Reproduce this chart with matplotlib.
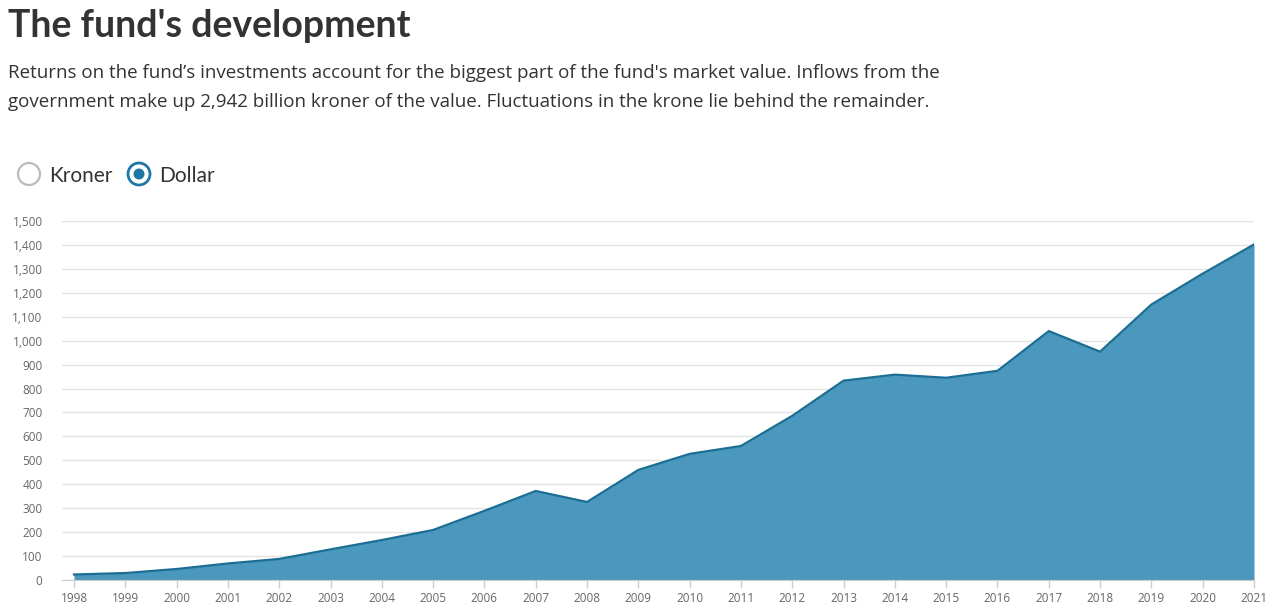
import numpy as np
import matplotlib
matplotlib.use("Agg")
from matplotlib import pyplot as plt
from matplotlib.patches import Ellipse

# fund market value, billion USD
years = list(range(1998, 2022))
values = [23, 29, 46, 69, 88, 128, 167, 209, 289, 372, 326, 460, 527, 560,
          686, 833, 858, 845, 874, 1040, 954, 1151, 1280, 1402]
ytick_vals = list(range(0, 1501, 100))

fill_col = '#4a98bd'
line_col = '#1b6e93'
grid_col = '#e3e3e3'
txt_col = '#333333'

plt.rcParams['font.family'] = ['Open Sans', 'DejaVu Sans']

fig = plt.figure(figsize=(12.8, 6.09), dpi=100)
W, H = 1280, 609

def fy(py):
    return 1 - py / H

def ring(px, py, r, **kw):
    # circle in pixel units on the figure
    e = Ellipse((px / W, fy(py)), 2 * r / W, 2 * r / H, transform=fig.transFigure, **kw)
    fig.patches.append(e)

# title + subtitle
fig.text(8 / W, fy(37), "The fund's development", fontsize=27, fontweight='bold',
         color=txt_col, va='baseline', ha='left', family=['Lato', 'DejaVu Sans'])
fig.text(8 / W, fy(78), "Returns on the fund\u2019s investments account for the biggest part of the fund's market value. Inflows from the",
         fontsize=13.5, color=txt_col, va='baseline', ha='left')
fig.text(8 / W, fy(107), "government make up 2,942 billion kroner of the value. Fluctuations in the krone lie behind the remainder.",
         fontsize=13.5, color=txt_col, va='baseline', ha='left')

# radio buttons
ring(29, 174, 11, fill=False, ec='#bbbbbb', lw=1.6)
ring(139, 174, 11, fill=False, ec='#1f77a8', lw=2.0)
ring(139, 174, 5.5, fc='#1f77a8', ec='none')
fig.text(49 / W, fy(182), "Kroner", fontsize=15, color=txt_col, va='baseline',
         family=['Lato', 'DejaVu Sans'])
fig.text(159 / W, fy(182), "Dollar", fontsize=15, color=txt_col, va='baseline',
         family=['Lato', 'DejaVu Sans'])

ax = fig.add_axes([62 / W, fy(580), (1254 - 62) / W, (580 - 221) / H])
ax.fill_between(years, values, 0, color=fill_col, lw=0, zorder=2)
ax.plot(years, values, color=line_col, lw=1.6, zorder=3)

ax.set_xlim(1998 - 12 / 51.3, 2021)
ax.set_ylim(0, 1500)
ax.set_yticks(ytick_vals)
ax.set_yticklabels([f"{v:,}" for v in ytick_vals])
ax.set_xticks(years)
ax.set_xticklabels([str(y) for y in years])
ax.grid(axis='y', color=grid_col, lw=1, zorder=0)
ax.tick_params(axis='y', length=0, pad=14, labelsize=8.5, labelcolor='#666666')
ax.tick_params(axis='x', length=6, color='#cccccc', width=1, pad=3,
               labelsize=8.5, labelcolor='#666666')
for s in ['top', 'right', 'left']:
    ax.spines[s].set_visible(False)
ax.spines['bottom'].set_color('#cccccc')
ax.set_facecolor('white')

fig.savefig('out.png', dpi=100)
